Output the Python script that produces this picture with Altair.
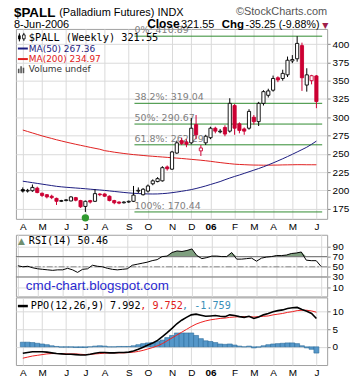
import altair as alt
import pandas as pd

# ---------------- data ----------------
weeks = list(range(62))
opens = [201, 199, 199.5, 203, 196, 194, 192, 189, 185, 186,
         185.5, 190, 186, 178, 186, 185, 195, 195, 192, 186,
         184, 183, 184, 185, 199, 194, 199, 209, 212, 213,
         232, 229, 251, 268, 266, 265, 290, 254, 265, 272,
         285, 280, 286, 281, 316, 291, 284, 285, 300, 294,
         319, 330, 337, 354, 353, 358, 377, 380, 398, 344,
         350, 356.5]
highs = [204, 202, 208, 205, 197, 195, 194, 190, 187, 188,
         192, 191, 187, 186, 187, 201.5, 196, 196, 193, 187,
         185, 185, 186, 206, 204, 203, 208, 215, 218, 233,
         234, 254, 268, 272, 270, 299, 303, 262, 276, 287,
         287, 284, 289, 326, 318, 293, 286, 311, 303, 321,
         337, 339, 357, 356, 365, 383, 385, 410.89, 402, 367,
         358, 357.8]
lows = [197, 197, 198, 196, 191, 189, 188, 180, 184, 185,
        185, 185, 176, 170.44, 182, 184, 192, 191, 185, 181,
        181, 182, 183, 184, 196, 193, 197, 207, 211, 212,
        227, 228, 250, 262, 259, 263, 270, 247, 262, 270,
        278, 278, 274, 279, 276, 278, 276, 283, 290, 288,
        316, 327, 335, 348, 350, 355, 374, 376, 336, 335,
        345, 312.4]
closes = [199, 200, 204, 197, 193, 191, 190, 185, 186, 187,
          191, 186.5, 177.5, 185, 184, 195.5, 194, 192, 186, 183,
          182.5, 184, 185, 193.5, 200, 201.5, 206, 213, 216, 231,
          229.5, 252.5, 265, 264, 263, 285, 276, 258, 274, 285,
          281, 281, 277, 319, 285, 282, 281, 308, 294, 319,
          335, 336, 353, 351, 360, 378, 379, 401, 354, 358,
          356.8, 321.55]
ma50 = [212.5, 211.5, 210.5, 209.5, 208.5, 207.5, 206.5, 205.5, 204.8, 204.2,
        203.7, 203.2, 202.7, 202.2, 201.6, 201.0, 200.5, 199.9, 199.2, 198.5,
        197.8, 197.1, 196.5, 196.0, 195.6, 195.3, 195.1, 195.0, 195.1, 195.5,
        196.0, 196.8, 197.7, 198.7, 199.8, 201.0, 202.5, 204.2, 206.0, 208.0,
        210.0, 212.0, 214.5, 216.8, 219.0, 221.0, 223.2, 225.4, 227.6, 229.8,
        232.2, 234.8, 237.5, 240.3, 243.2, 246.2, 249.3, 252.5, 255.7, 259.0,
        263.0, 267.36]
ma200 = [282.5, 280.5, 278.5, 276.5, 274.5, 272.7, 271.0, 269.2, 267.6, 266.0,
         264.5, 263.0, 261.6, 260.2, 258.8, 257.5, 256.2, 254.3, 253.3, 252.2,
         251.3, 250.4, 249.6, 248.9, 248.3, 247.7, 247.1, 246.6, 246.1, 245.6,
         245.1, 244.6, 244.1, 243.6, 243.0, 242.4, 241.8, 241.2, 240.5, 239.7,
         238.8, 238.0, 237.2, 236.5, 235.8, 235.4, 235.1, 234.8, 234.6, 234.5,
         234.4, 234.4, 234.5, 234.6, 234.8, 234.9, 235.0, 235.1, 235.1, 235.0,
         235.0, 234.97]
rsi = [52, 50, 51, 48, 46, 45, 44, 43, 44, 44,
       47, 44, 39, 45, 46, 53, 51, 50, 47, 45,
       44, 45, 46, 53, 55, 57, 59, 62, 64, 70,
       71, 78, 81, 80, 82, 85, 72, 66, 68, 71,
       71, 70, 70, 78, 65, 65, 66, 67, 61, 67,
       69, 70, 72, 72, 73, 76, 77, 79, 63, 62,
       62, 50.46]
ppo = [-1.8, -1.6, -1.4, -1.4, -1.4, -1.5, -1.7, -1.9, -2.0, -2.1,
       -2.1, -2.2, -2.3, -2.3, -2.1, -1.8, -1.6, -1.6, -1.7, -1.7,
       -1.6, -1.6, -1.5, -1.2, -0.7, -0.1, 0.5, 1.1, 1.8, 2.9,
       4.0, 5.2, 6.5, 7.5, 8.3, 9.0, 9.2, 8.9, 8.6, 8.7,
       8.8, 8.6, 8.5, 9.0, 8.8, 8.5, 8.3, 8.6, 8.0, 8.4,
       9.0, 9.4, 9.9, 10.2, 10.4, 10.8, 11.0, 11.1, 10.5, 10.0,
       9.4, 7.992]
signal = [-3.2, -2.9, -2.6, -2.4, -2.2, -2.0, -1.9, -1.9, -1.9, -2.0,
          -2.0, -2.0, -2.1, -2.2, -2.1, -2.0, -1.9, -1.8, -1.7, -1.7,
          -1.7, -1.7, -1.6, -1.5, -1.3, -1.0, -0.6, -0.2, 0.3, 0.9,
          1.7, 2.5, 3.3, 4.1, 4.9, 5.7, 6.4, 6.9, 7.3, 7.6,
          7.8, 8.0, 8.1, 8.3, 8.4, 8.5, 8.5, 8.5, 8.4, 8.5,
          8.6, 8.7, 9.0, 9.2, 9.4, 9.7, 9.9, 10.2, 10.3, 10.3,
          10.1, 9.752]
hist = [1.3, 1.3, 1.2, 1.0, 0.8, 0.6, 0.3, 0.1, -0.1, -0.1,
        -0.1, -0.2, -0.2, -0.2, 0.0, 0.2, 0.3, 0.2, 0.0, 0.0,
        0.1, 0.1, 0.1, 0.3, 0.6, 0.9, 1.1, 1.2, 1.5, 1.9,
        2.6, 3.2, 3.9, 3.9, 3.9, 3.9, 3.2, 2.3, 1.7, 1.5,
        1.2, 0.8, 0.7, 0.8, 0.5, 0.2, 0.0, 0.2, -0.3, -0.1,
        0.3, 0.6, 0.8, 0.9, 1.0, 1.1, 1.1, 0.9, 0.3, -0.3,
        -0.7, -1.759]

month_ticks = [0, 4, 9, 13, 17, 22, 26, 31, 35, 39, 44, 48, 52, 56, 61]
month_labels = ["A", "M", "J", "J", "A", "S", "O", "N", "D", "06", "F", "M", "A", "M", "J"]
fib_names = ["0%", "38.2%", "50%", "61.8%", "100%"]
fib_levels = [410.89, 319.04, 290.67, 262.29, 170.44]
price_ticks = [175, 200, 225, 250, 275, 300, 325, 350, 375, 400]
rsi_ticks = [10, 30, 50, 70, 90]
ppo_ticks = [0, 5, 10]
low_week = 13

# ---------------- tables ----------------
RED = "#cc0033"
prev = [None] + closes[:-1]
cols = ["#000000" if (p is None or c >= p) else RED for c, p in zip(closes, prev)]
fills = ["#ffffff" if c >= o else col for c, o, col in zip(closes, opens, cols)]
df = pd.DataFrame({"w": weeks, "o": opens, "h": highs, "l": lows, "c": closes,
                   "ma50": ma50, "ma200": ma200, "rsi": rsi, "ppo": ppo,
                   "sig": signal, "hist": hist, "col": cols, "fillc": fills})
fib = pd.DataFrame({"lvl": fib_levels,
                    "txt": [f"{n}: {v:.2f}" for n, v in zip(fib_names, fib_levels)]})
one = pd.DataFrame({"k": [0]})
dot = pd.DataFrame({"w": [low_week]})

label_arr = [""] * len(weeks)
for t, lab in zip(month_ticks, month_labels):
    label_arr[t] = lab
label_expr = "[" + ",".join("'" + s + "'" for s in label_arr) + "][datum.value]"
bold_week = month_ticks[month_labels.index("06")]

W = 313
XS = alt.Scale(domain=[-0.4, 62.2], nice=False, zero=False)
GRID = "#dadada"


def x_axis(show):
    return alt.Axis(values=month_ticks, labelExpr=label_expr, labels=show, grid=True,
                    gridColor=GRID, domain=False, ticks=False, title=None,
                    labelFont="Liberation Sans", labelFontSize=10, labelColor="#000",
                    labelPadding=3, labelFlush=False, labelOverlap=False,
                    labelFontWeight={"condition": {"test": f"datum.value == {bold_week}",
                                                   "value": "bold"}, "value": "normal"})


def y_axis(vals):
    return alt.Axis(orient="right", values=vals, grid=True, gridColor=GRID, domain=False,
                    ticks=True, tickSize=3, tickColor="#888", title=None,
                    labelFont="Liberation Sans", labelFontSize=10, labelColor="#000",
                    labelPadding=2)


def txt(s, x, y, size=10, color="#000", font="DejaVu Sans", weight="normal",
        align="left", baseline="middle"):
    return alt.Chart(one).mark_text(text=s, fontSize=size, color=color, font=font,
                                    fontWeight=weight, align=align,
                                    baseline=baseline).encode(x=alt.value(x), y=alt.value(y))


def box(x1, x2, y1, y2, fill, stroke=None, sw=0.8):
    kw = dict(fill=fill)
    if stroke:
        kw.update(stroke=stroke, strokeWidth=sw)
    return alt.Chart(one).mark_rect(**kw).encode(x=alt.value(x1), x2=alt.value(x2),
                                                 y=alt.value(y1), y2=alt.value(y2))


def hline(x1, x2, y, color, sw=1):
    return alt.Chart(one).mark_rule(color=color, strokeWidth=sw).encode(
        x=alt.value(x1), x2=alt.value(x2), y=alt.value(y))


def vline(x, y1, y2, color, sw=1):
    return alt.Chart(one).mark_rule(color=color, strokeWidth=sw).encode(
        x=alt.value(x), y=alt.value(y1), y2=alt.value(y2))


# ---------------- price panel ----------------
PY = alt.Scale(domain=[161, 420.8], nice=False, zero=False)
xq = alt.X("w:Q", scale=XS, axis=x_axis(True))
base = alt.Chart(df)

fib_rules = alt.Chart(fib).mark_rule(color="#2f8a2f", strokeWidth=1).encode(
    x=alt.datum(23.2, scale=XS, axis=x_axis(True)), x2=alt.datum(62.2),
    y=alt.Y("lvl:Q", scale=PY, axis=y_axis(price_ticks)))
fib_txt = alt.Chart(fib).mark_text(align="left", baseline="bottom", dy=-1, fontSize=9.5,
                                   font="DejaVu Sans", color="#808080").encode(
    x=alt.datum(23.2, scale=XS, axis=x_axis(True)),
    y=alt.Y("lvl:Q", scale=PY, axis=y_axis(price_ticks)), text="txt:N")
ma200_l = base.mark_line(color="#e02020", strokeWidth=1).encode(
    x=xq, y=alt.Y("ma200:Q", scale=PY, axis=y_axis(price_ticks)))
ma50_l = base.mark_line(color="#1c1c80", strokeWidth=1).encode(
    x=xq, y=alt.Y("ma50:Q", scale=PY, axis=y_axis(price_ticks)))
wicks = base.mark_rule(strokeWidth=1).encode(
    x=xq, y=alt.Y("l:Q", scale=PY, axis=y_axis(price_ticks)), y2="h:Q",
    color=alt.Color("col:N", scale=None))
bodies = base.mark_bar(width=3.2, strokeWidth=0.9).encode(
    x=xq, y=alt.Y("o:Q", scale=PY, axis=y_axis(price_ticks)), y2="c:Q",
    fill=alt.Fill("fillc:N", scale=None), stroke=alt.Stroke("col:N", scale=None))
low_dot = alt.Chart(dot).mark_point(filled=True, size=55, color="#2f9a2f", opacity=1).encode(
    x=alt.X("w:Q", scale=XS, axis=x_axis(True)), y=alt.value(190))

frame = alt.Chart(one).mark_rect(fill="#ffffff", opacity=0).encode(
    x=alt.value(-15), x2=alt.value(338), y=alt.value(-27), y2=alt.value(357))

main_deco = [
    # header
    txt("$PALL", -2, -12.5, 13.5, "#000", "Liberation Sans", "bold", baseline="alphabetic"),
    txt("(Palladium Futures) INDX", 43.5, -13.5, 11, "#000", "Liberation Sans", baseline="alphabetic"),
    txt("\u00a9StockCharts.com", 313, -14, 11, "#555", "Liberation Sans", align="right", baseline="alphabetic"),
    txt("8-Jun-2006", -2, -1, 11, "#000", "Liberation Sans", baseline="alphabetic"),
    txt("Close", 132, -0.5, 12, "#000", "Liberation Sans", "bold", baseline="alphabetic"),
    txt("321.55", 166, -0.5, 11, "#000", "Liberation Sans", baseline="alphabetic"),
    txt("Chg", 207, -0.5, 11.5, "#000", "Liberation Sans", "bold", baseline="alphabetic"),
    txt("-35.25 (-9.88%)", 231, -0.5, 10.7, "#000", "Liberation Sans", baseline="alphabetic"),
    txt("\u25bc", 308, -1, 8, "#a0204a", "DejaVu Sans", baseline="alphabetic"),
    # legend
    vline(3.5, 4.5, 12.5, "#000"),
    vline(8, 4, 12, "#000"),
    box(2.2, 4.8, 6.5, 10.5, "#000"),
    box(6.7, 9.3, 6, 10, "#fff", "#000"),
    txt("$PALL (Weekly) 321.55", 13, 8.7, 10.3, "#000", "DejaVu Sans Mono"),
    hline(2, 12, 19.7, "#1c1c80", 2),
    txt("MA(50) 267.36", 13, 19.7, 9, "#1c1c80"),
    hline(2, 12, 30.3, "#e02020", 2),
    txt("MA(200) 234.97", 13, 30.3, 9, "#e02020"),
    box(2, 3.6, 40, 44.5, "#555"),
    box(4.4, 6, 37.5, 44.5, "#555"),
    box(6.8, 8.4, 39, 44.5, "#555"),
    txt("Volume undef", 13, 40.7, 9, "#333"),
]

main = alt.layer(fib_rules, fib_txt, ma200_l, ma50_l, wicks, bodies, low_dot,
                 *main_deco, frame).properties(width=W, height=191)

# ---------------- RSI panel ----------------
RY = alt.Scale(domain=[-8.1, 112.8], nice=False, zero=False)
xr = alt.X("w:Q", scale=XS, axis=x_axis(False))
rsi_area = base.transform_calculate(rtop="max(datum.rsi, 70)").mark_area(
    color="#7f9f7f", opacity=1).encode(
    x=xr, y=alt.Y("rtop:Q", scale=RY, axis=y_axis(rsi_ticks)), y2=alt.datum(70))
rsi_line = base.mark_line(color="#000", strokeWidth=1).encode(
    x=xr, y=alt.Y("rsi:Q", scale=RY, axis=y_axis(rsi_ticks)))
r70 = alt.Chart(one).mark_rule(color="#777", strokeWidth=1).encode(
    y=alt.datum(70, scale=RY, axis=y_axis(rsi_ticks)))
r30 = alt.Chart(one).mark_rule(color="#777", strokeWidth=1).encode(
    y=alt.datum(30, scale=RY, axis=y_axis(rsi_ticks)))
r50 = alt.Chart(one).mark_rule(color="#888", strokeWidth=1, strokeDash=[6, 2, 2, 2]).encode(
    y=alt.datum(50, scale=RY, axis=y_axis(rsi_ticks)))
rsi_deco = [
    txt("\u25b2", 2, 6.5, 9, "#6f8f6f"),
    txt("RSI(14) 50.46", 13, 6, 10.2, "#000", "DejaVu Sans Mono"),
    txt("cmd-chart.blogspot.com", 10, 52, 13.5, "#2a2ad0", "Liberation Sans"),
]
rsi_ch = alt.layer(rsi_area, r70, r30, r50, rsi_line, *rsi_deco).properties(width=W, height=62)

# ---------------- PPO panel ----------------
QY = alt.Scale(domain=[-5.13, 13.92], nice=False, zero=False)
xp = alt.X("w:Q", scale=XS, axis=x_axis(True))
hist_b = base.mark_bar(width=5, fill="#5597c9", stroke="#2d6c9c", strokeWidth=0.6).encode(
    x=xp, y=alt.Y("hist:Q", scale=QY, axis=y_axis(ppo_ticks)), y2=alt.datum(0))
sig_l = base.mark_line(color="#ee2020", strokeWidth=1).encode(
    x=xp, y=alt.Y("sig:Q", scale=QY, axis=y_axis(ppo_ticks)))
ppo_l = base.mark_line(color="#000", strokeWidth=1.6).encode(
    x=xp, y=alt.Y("ppo:Q", scale=QY, axis=y_axis(ppo_ticks)))
ppo_deco = [
    hline(2, 12, 8.7, "#000", 2.5),
    txt("PPO(12,26,9) 7.992", 15, 8.7, 10.2, "#000", "DejaVu Sans Mono"),
    txt(", 9.752", 125, 8.7, 10.2, "#e02020", "DejaVu Sans Mono"),
    txt(", -1.759", 167, 8.7, 10.2, "#3a8fb7", "DejaVu Sans Mono"),
]
ppo_ch = alt.layer(hist_b, sig_l, ppo_l, *ppo_deco).properties(width=W, height=68)

lower = alt.vconcat(rsi_ch, ppo_ch, spacing=1, bounds="flush")
chart = alt.vconcat(main, lower, spacing=16, bounds="flush").properties(
    padding=0, background="white")
chart = chart.configure_view(stroke="#a0a0a0", strokeWidth=1)

chart.save("out.html", embed_options={"renderer": "svg", "actions": False})
